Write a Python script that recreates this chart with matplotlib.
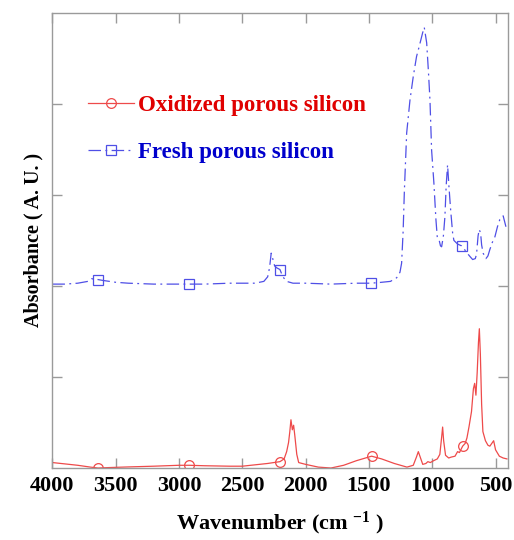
import matplotlib
matplotlib.use("Agg")
import matplotlib.pyplot as plt
import numpy as np

plt.rcParams['font.family'] = ['Liberation Serif', 'DejaVu Serif']
plt.rcParams['font.weight'] = 'bold'
plt.rcParams['mathtext.fontset'] = 'custom'
plt.rcParams['mathtext.rm'] = 'Liberation Serif:bold'
plt.rcParams['mathtext.it'] = 'Liberation Serif:bold'
plt.rcParams['mathtext.bf'] = 'Liberation Serif:bold'

# ---- data ----
ox_wn = [4000, 3900, 3800, 3700, 3640, 3550, 3400, 3200, 3000, 2920, 2800, 2600, 2500,
         2400, 2300, 2203, 2170, 2150, 2135, 2125, 2116, 2105, 2095, 2085, 2070, 2055,
         2000, 1900, 1800, 1700, 1600, 1479, 1400, 1300, 1200, 1150, 1125, 1110, 1095,
         1075, 1050, 1035, 1015, 990, 960, 940, 925, 918, 910, 895, 870, 850, 820, 800,
         785, 760, 740, 726, 710, 690, 675, 665, 655, 645, 635, 628, 620, 610, 600, 580,
         560, 545, 530, 515, 500, 470, 440, 410]
ox_abs = [0.06, 0.045, 0.03, 0.01, 0.0, 0.005, 0.012, 0.02, 0.03, 0.03, 0.025, 0.02, 0.02,
          0.035, 0.05, 0.07, 0.10, 0.18, 0.28, 0.40, 0.53, 0.42, 0.47, 0.35, 0.15, 0.06,
          0.04, 0.01, 0.0, 0.03, 0.08, 0.13, 0.10, 0.05, 0.01, 0.03, 0.12, 0.18, 0.12,
          0.04, 0.05, 0.07, 0.06, 0.08, 0.10, 0.15, 0.35, 0.45, 0.30, 0.14, 0.11, 0.12, 0.13, 0.18,
          0.17, 0.24, 0.27, 0.33, 0.45, 0.62, 0.87, 0.93, 0.80, 1.05, 1.38, 1.53, 1.25, 0.70, 0.40, 0.30,
          0.25, 0.24, 0.27, 0.30, 0.20, 0.13, 0.11, 0.10]

fr_wn = [4000, 3900, 3800, 3720, 3690, 3660, 3640, 3600, 3500, 3400, 3200, 3000, 2920,
         2800, 2600, 2400, 2330, 2300, 2285, 2272, 2260, 2245, 2230, 2203, 2180, 2150,
         2100, 2000, 1800, 1600, 1484, 1400, 1330, 1281, 1255, 1242, 1230, 1220, 1202,
         1176, 1150, 1124, 1103, 1076, 1063, 1044, 1030, 1018, 1005, 987, 971, 960, 945,
         935, 926, 912, 900, 890, 879, 868, 855, 839, 829, 800, 768, 745, 724, 700, 681,
         660, 650, 638, 629, 618, 610, 598, 576, 560, 545, 525, 505, 485, 466, 440, 418]
fr_abs = [2.02, 2.02, 2.03, 2.05, 2.08, 2.07, 2.07, 2.06, 2.04, 2.03, 2.02, 2.02, 2.02,
          2.02, 2.03, 2.03, 2.05, 2.10, 2.20, 2.36, 2.30, 2.22, 2.20, 2.18, 2.10, 2.05,
          2.03, 2.03, 2.02, 2.03, 2.03, 2.04, 2.05, 2.09, 2.15, 2.25, 2.60, 3.05, 3.68,
          4.04, 4.30, 4.52, 4.63, 4.78, 4.84, 4.67, 4.35, 4.04, 3.49, 3.13, 2.73, 2.53, 2.50,
          2.44, 2.43, 2.55, 2.76, 3.10, 3.33, 3.09, 2.84, 2.58, 2.50, 2.46, 2.44, 2.40, 2.36, 2.32, 2.29,
          2.30, 2.35, 2.55, 2.62, 2.58, 2.45, 2.36, 2.30, 2.33, 2.40, 2.48, 2.54, 2.65, 2.73, 2.77, 2.65]

ox_marker_wn = [3640, 2920, 2203, 1479, 760]
fr_marker_wn = [3640, 2920, 2203, 1484, 768]

labels = ["Oxidized porous silicon", "Fresh porous silicon"]
x_ticks = [4000, 3500, 3000, 2500, 2000, 1500, 1000, 500]

red_line = '#ee4a4a'
blue_line = '#4f4fe6'
red_text = '#e00000'
blue_text = '#0000cc'
spine_col = '#9a9a9a'

fig = plt.figure(figsize=(5.14, 5.40), dpi=100)
ax = fig.add_axes([0.102, 0.1333, 0.886, 0.843])

ox_idx = [ox_wn.index(w) for w in ox_marker_wn]
fr_idx = [fr_wn.index(w) for w in fr_marker_wn]

ax.plot(ox_wn, ox_abs, color=red_line, lw=0.9, marker='o', markevery=ox_idx,
        markersize=7, markerfacecolor='none', markeredgecolor=red_line,
        markeredgewidth=0.9, label=labels[0])
ax.plot(fr_wn, fr_abs, color=blue_line, lw=0.9, dashes=(10, 3.5, 1.5, 3.5), marker='s',
        markevery=fr_idx, markersize=6.5, markerfacecolor='none',
        markeredgecolor=blue_line, markeredgewidth=0.9, label=labels[1])

ax.set_xlim(4000, 403)
ax.set_ylim(0, 5)
ax.set_xticks(x_ticks)
ax.set_xticklabels([str(t) for t in x_ticks])
ax.set_yticks([1, 2, 3, 4])
ax.set_yticklabels([])

for s in ax.spines.values():
    s.set_color(spine_col)
    s.set_linewidth(1.0)
ax.tick_params(axis='both', direction='in', length=7, width=1.0, color=spine_col,
               top=True, right=True)
ax.tick_params(axis='x', labelsize=16, pad=6)
for lab in ax.get_xticklabels():
    lab.set_fontweight('bold')

ax.set_xlabel(r'Wavenumber (cm $^{-1}$ )', fontsize=16, fontweight='bold', labelpad=10)
ax.set_ylabel('Absorbance ( A. U. )', fontsize=14.5, fontweight='bold', labelpad=3)

leg = ax.legend(loc='upper left', bbox_to_anchor=(0.078, 0.82), frameon=False,
                borderaxespad=0, borderpad=0,
                prop={'family': 'Liberation Serif', 'weight': 'bold', 'size': 16.5},
                handlelength=2.0, handletextpad=0.2, labelspacing=1.15)
for txt, c in zip(leg.get_texts(), [red_text, blue_text]):
    txt.set_color(c)

fig.savefig('out.png', dpi=100)
